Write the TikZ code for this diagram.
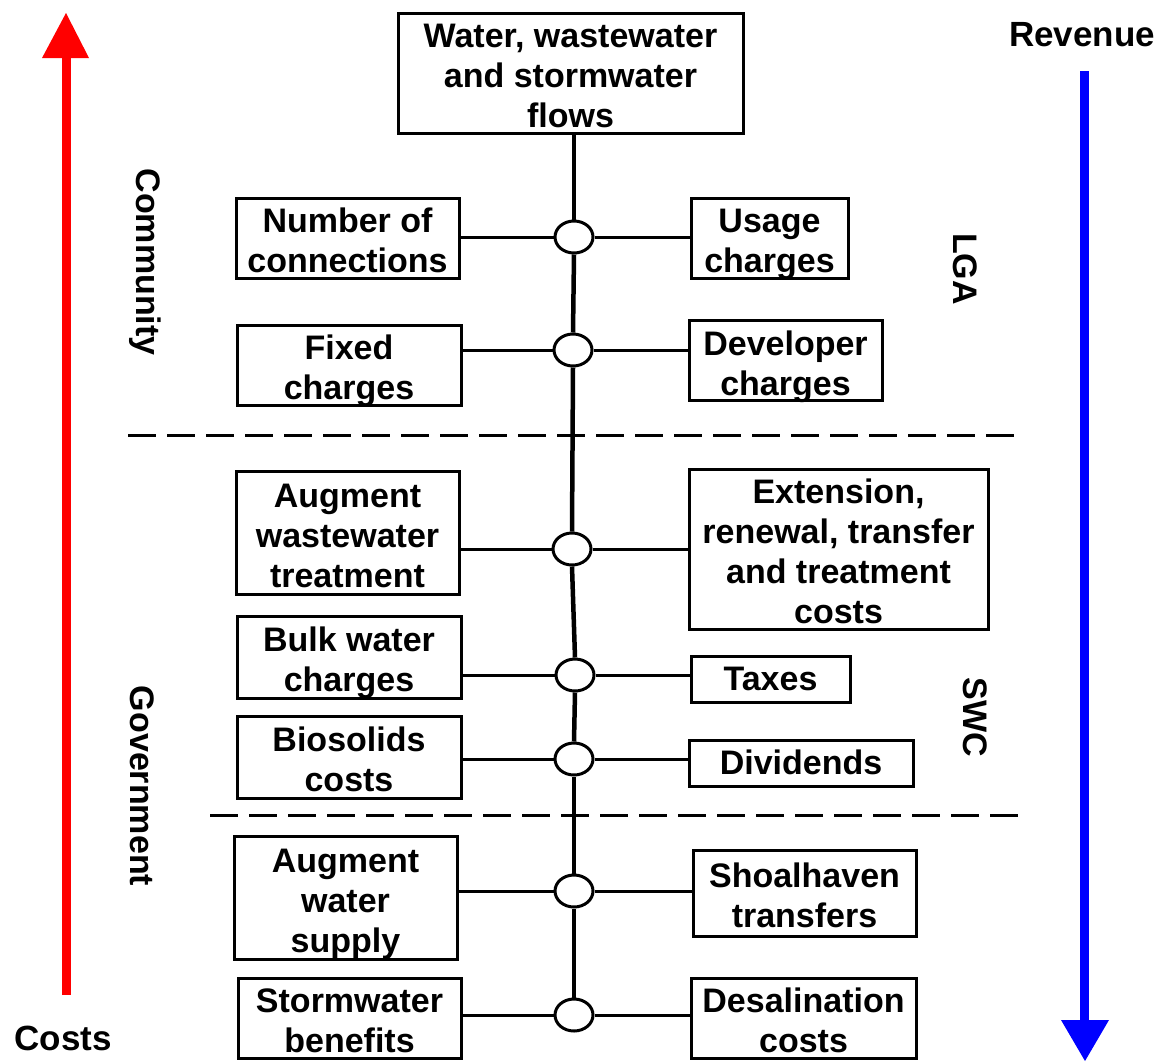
\documentclass[tikz,border=0pt]{standalone}
\usepackage{fontspec}
\setmainfont{Liberation Sans}
\usetikzlibrary{shapes.geometric}

% centred stack of lines with a fixed 40pt pitch, set a little below the
% middle of its box (the reported height and depth stay unchanged)
\newcommand\celltext[2][6.5pt]{\raisebox{-#1}[\height][\depth]{\begin{tabular}{@{}c@{}}#2\end{tabular}}}

\tikzset{
  bx/.style={draw, line width=3pt, inner sep=0pt,
    font=\bfseries\fontsize{34}{40}\selectfont},
  hub/.style={draw, ellipse, line width=3pt, fill=white, inner sep=0pt,
    minimum width=38pt, minimum height=32pt},
  link/.style={line width=3pt},
  spine/.style={line width=4.5pt},
  divider/.style={line width=3pt, dash pattern=on 28pt off 11pt},
  side/.style={font=\bfseries\fontsize{34}{40}\selectfont, rotate=-90, inner sep=0pt},
  axislabel/.style={font=\bfseries\fontsize{35}{40}\selectfont, inner sep=0pt}
}

\begin{document}
\begin{tikzpicture}[x=1pt, y=-1pt]
\useasboundingbox (0,0) rectangle (1170,1061);

% cost and revenue axes
\draw[red, line width=9pt] (66,995) -- (66,56);
\fill[red] (42,58) -- (66,13) -- (89,58) -- cycle;
\draw[blue, line width=9pt] (1084,71) -- (1084,1022);
\fill[blue] (1061,1020) -- (1085,1061) -- (1109,1020) -- cycle;
\node[axislabel] (rev) at (1082,35) {Revenue};
\node[axislabel] (cost) at (63,1038) {Costs};

% sector labels
\node[side] (comm) at (145,262) {Community};
\node[side] (gov) at (142,786) {Government};
\node[side] (lga) at (965,269) {LGA};
\node[side] (swc) at (975,717) {SWC};

% boundaries between sectors
\draw[divider] (128,435) -- (1017,435);
\draw[divider] (210,815) -- (1022,815);

% source node
\node[bx, minimum width=345pt, minimum height=120pt] (top) at (570.5,73)
  {\celltext{Water, wastewater\\and stormwater\\flows}};

% hubs on the central spine
\node[hub] (h1) at (574,237) {};
\node[hub] (h2) at (573,350) {};
\node[hub] (h3) at (572,549) {};
\node[hub] (h4) at (575,675) {};
\node[hub] (h5) at (574,759) {};
\node[hub] (h6) at (574,891) {};
\node[hub] (h7) at (574,1015) {};

\draw[spine] (h1.north |- top.south) -- (h1.north);
\draw[spine] (h1.south) -- (h2.north);
\draw[spine] (h2.south) -- (h3.north);
\draw[spine] (h3.south) -- (h4.north);
\draw[spine] (h4.south) -- (h5.north);
\draw[spine] (h5.south) -- (h6.north);
\draw[spine] (h6.south) -- (h7.north);

% cost side
\node[bx, minimum width=223pt, minimum height=80pt] (l1) at (347.5,238) {\celltext{Number of\\connections}};
\node[bx, minimum width=224pt, minimum height=80pt] (l2) at (349,365) {\celltext{Fixed\\charges}};
\node[bx, minimum width=223pt, minimum height=123pt] (l3) at (347.5,532.5) {\celltext{Augment\\wastewater\\treatment}};
\node[bx, minimum width=224pt, minimum height=82pt] (l4) at (349,657) {\celltext{Bulk water\\charges}};
\node[bx, minimum width=224pt, minimum height=82pt] (l5) at (349,757) {\celltext{Biosolids\\costs}};
\node[bx, minimum width=223pt, minimum height=123pt] (l6) at (345.5,897.5) {\celltext{Augment\\water\\supply}};
\node[bx, minimum width=223pt, minimum height=80pt] (l7) at (349.5,1018) {\celltext{Stormwater\\benefits}};

% revenue side
\node[bx, minimum width=157pt, minimum height=80pt] (r1) at (769.5,238) {\celltext{Usage\\charges}};
\node[bx, minimum width=193pt, minimum height=79pt] (r2) at (785.5,360.5) {\celltext{Developer\\charges}};
\node[bx, minimum width=299pt, minimum height=160pt] (r3) at (838.5,549) {\celltext{Extension,\\renewal, transfer\\and treatment\\costs}};
\node[bx, minimum width=159pt, minimum height=46pt] (r4) at (770.5,679) {\celltext[3.5pt]{Taxes}};
\node[bx, minimum width=224pt, minimum height=46pt] (r5) at (801,763) {\celltext[3.5pt]{Dividends}};
\node[bx, minimum width=223pt, minimum height=86pt] (r6) at (804.5,893) {\celltext{Shoalhaven\\transfers}};
\node[bx, minimum width=225pt, minimum height=80pt] (r7) at (803.5,1018) {\celltext{Desalination\\costs}};

% links from hubs to items, level with each hub
\foreach \i in {1,...,7} {
  \draw[link] (l\i.east |- h\i.west) -- (h\i.west);
  \draw[link] (h\i.east) -- (r\i.west |- h\i.east);
}
\end{tikzpicture}
\end{document}
